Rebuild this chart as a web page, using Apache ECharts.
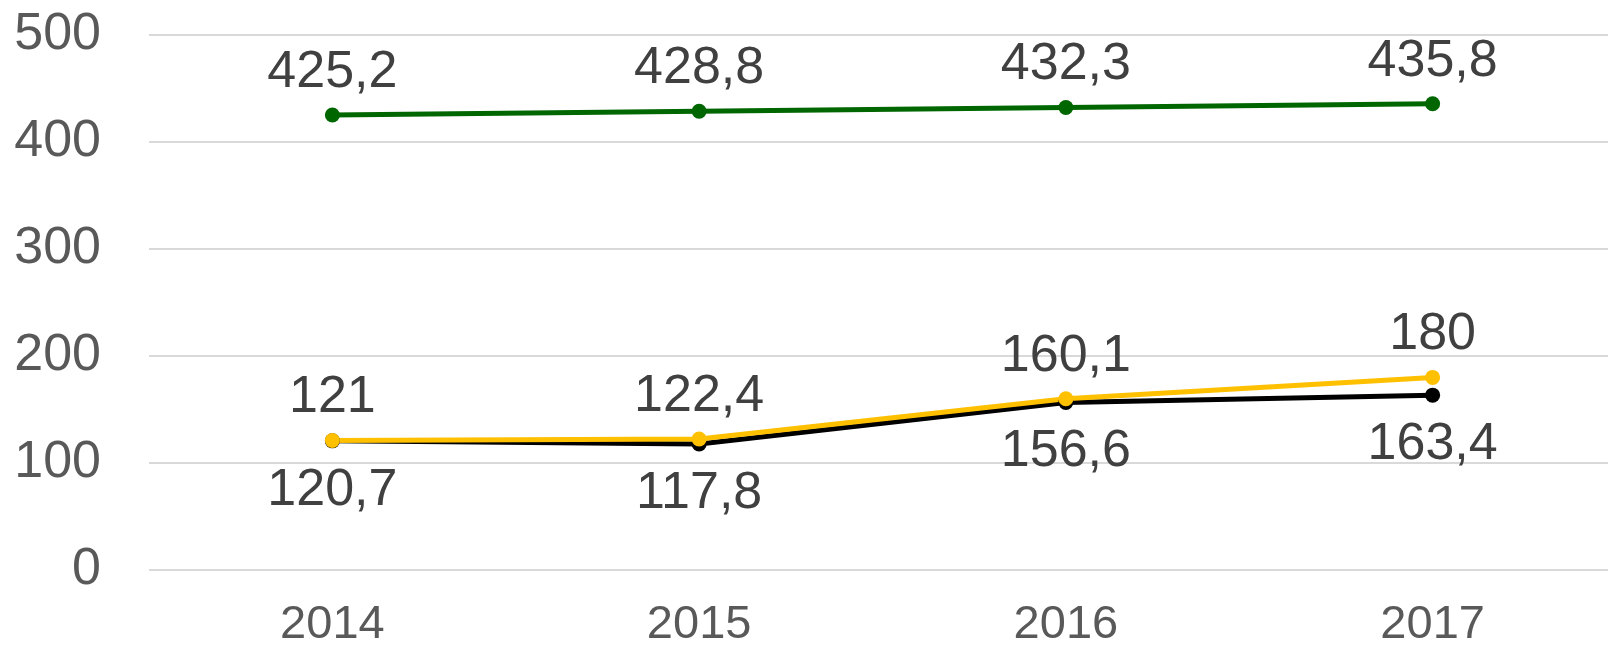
<!DOCTYPE html>
<html>
<head>
<meta charset="utf-8">
<script src="https://cdn.jsdelivr.net/npm/echarts@6/dist/echarts.min.js"></script>
<style>
  html, body { margin: 0; padding: 0; background: #fff; }
  #chart { width: 1608px; height: 646px; }
</style>
</head>
<body>
<div id="chart"></div>
<script>
// chart data
const years = ['2014', '2015', '2016', '2017'];
const greenValues = [425.2, 428.8, 432.3, 435.8];
const blackValues = [120.7, 117.8, 156.6, 163.4];
const yellowValues = [121, 122.4, 160.1, 180];
const yTicks = [0, 100, 200, 300, 400, 500];

const FONT = '"Liberation Sans", Arial, sans-serif';

// decimal comma, like the original
const fmt = p => String(p.value).replace('.', ',');

const makeSeries = (name, data, color, pos) => ({
  name,
  type: 'line',
  data,
  symbol: 'circle',
  symbolSize: 15,
  lineStyle: { color, width: 5 },
  itemStyle: { color },
  label: {
    show: true,
    position: pos,
    distance: pos === 'top' ? 9 : 16,
    formatter: fmt,
    fontFamily: FONT,
    fontSize: 52,
    color: '#404040'
  },
  animation: false
});

const chart = echarts.init(document.getElementById('chart'));
chart.setOption({
  backgroundColor: '#fff',
  grid: {
    left: 149, top: 35, width: 1467, height: 535,
    containLabel: false, outerBoundsMode: 'none'
  },
  xAxis: {
    type: 'category',
    data: years,
    boundaryGap: true,
    axisLine: { show: false },
    axisTick: { show: false },
    axisLabel: { fontFamily: FONT, fontSize: 47, color: '#595959', margin: 32 }
  },
  yAxis: {
    type: 'value',
    min: yTicks[0],
    max: yTicks[yTicks.length - 1],
    interval: 100,
    axisLine: { show: false },
    axisTick: { show: false },
    splitLine: { lineStyle: { color: '#d9d9d9', width: 2 } },
    axisLabel: { fontFamily: FONT, fontSize: 52, color: '#595959', margin: 48 }
  },
  series: [
    makeSeries('green', greenValues, '#006600', 'top'),
    makeSeries('black', blackValues, '#000000', 'bottom'),
    makeSeries('yellow', yellowValues, '#FFC000', 'top')
  ]
});
</script>
</body>
</html>
